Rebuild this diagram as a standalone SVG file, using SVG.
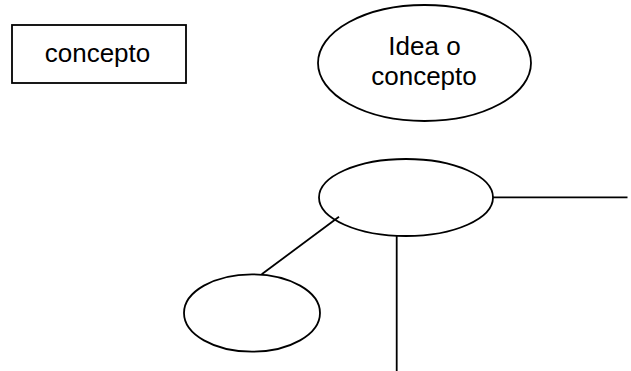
<svg xmlns="http://www.w3.org/2000/svg" width="631" height="371" viewBox="0 0 631 371">
<style>
.s{fill:#fff;stroke:#000;stroke-width:1.8}
.l{stroke:#000;stroke-width:1.8;fill:none}
.t{font-family:"Liberation Sans",Arial,sans-serif;font-size:26px;fill:#000;text-anchor:middle}
</style>
<rect width="631" height="371" fill="#fff"/>
<g id="concepto">
<rect class="s" x="12" y="25" width="174" height="58"/>
<text class="t" x="97.5" y="61.5">concepto</text>
</g>
<g id="idea">
<ellipse class="s" cx="424.5" cy="63" rx="106.5" ry="58"/>
<text class="t" x="424.5" y="55">Idea o</text>
<text class="t" x="424" y="85">concepto</text>
</g>
<g id="center">
<ellipse class="s" cx="406" cy="197.5" rx="87" ry="38.5"/>
</g>
<g id="small">
<ellipse class="s" cx="252" cy="313" rx="68" ry="38.7"/>
</g>
<g id="connectors">
<line class="l" x1="493" y1="197.3" x2="627.5" y2="197.3"/>
<line class="l" x1="396.7" y1="236" x2="396.7" y2="371"/>
<line class="l" x1="339" y1="216.7" x2="261.7" y2="274.3"/>
</g>
</svg>
